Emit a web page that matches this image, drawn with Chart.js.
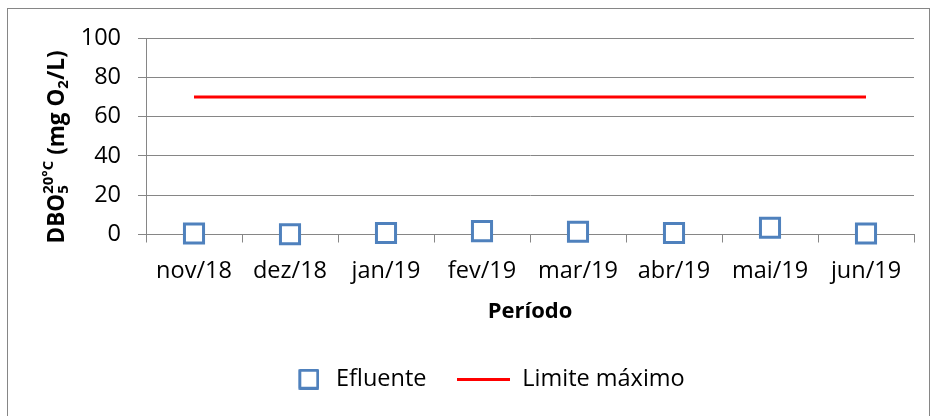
<!DOCTYPE html>
<html lang="pt">
  <head>
    <meta charset="UTF-8" />
    <title>DBO5 Efluente</title>
    <script src="https://cdn.jsdelivr.net/npm/chart.js@4.4.1/dist/chart.umd.min.js"></script>
    <style>
      * {
        margin: 0;
        padding: 0;
        box-sizing: border-box;
      }
      body {
        background: #fff;
        width: 931px;
        height: 416px;
        overflow: hidden;
      }
      #chart {
        display: block;
      }
    </style>
  </head>
  <body>
    <canvas id="chart" width="931" height="416"></canvas>
    <script>
      // data
      const categories = ["nov/18", "dez/18", "jan/19", "fev/19", "mar/19", "abr/19", "mai/19", "jun/19"];
      const efluente = [0.5, 0.1, 0.8, 1.7, 1.4, 0.8, 3.4, 0.5];
      const limiteMaximo = [70, 70, 70, 70, 70, 70, 70, 70];
      const seriesNames = ["Efluente", "Limite máximo"];
      const yMin = 0, yMax = 100, yStep = 20;

      const FONT = "'Open Sans', sans-serif";
      const gray = "#868686";
      const blue = "#4f81bd";
      const red = "#ff0000";

      // legend symbols (marker image is padded on the left so it sits closer to its text)
      const markerImg = document.createElement("canvas");
      markerImg.width = 43;
      markerImg.height = 21;
      let c = markerImg.getContext("2d");
      c.strokeStyle = blue;
      c.lineWidth = 3;
      c.lineJoin = "round";
      c.strokeRect(23.5, 1.5, 18, 18);

      const lineImg = document.createElement("canvas");
      lineImg.width = 53;
      lineImg.height = 3;
      c = lineImg.getContext("2d");
      c.fillStyle = red;
      c.fillRect(0, 0, 53, 3);

      // outer frame + white background
      const framePlugin = {
        id: "frame",
        beforeDraw(chart) {
          const ctx = chart.ctx;
          ctx.save();
          ctx.fillStyle = "#fff";
          ctx.fillRect(0, 0, chart.width, chart.height);
          ctx.strokeStyle = gray;
          ctx.lineWidth = 1;
          ctx.strokeRect(7.5, 8.5, 922, 420);
          ctx.restore();
        },
      };

      // y title with sub/superscripts
      const yTitlePlugin = {
        id: "yTitle",
        afterDraw(chart) {
          const ctx = chart.ctx;
          const big = "bold 22.5px " + FONT;
          const small = "bold 15px " + FONT;
          const parts = [
            { t: "DBO", f: big, dy: 0 },
            { t: "5", f: small, dy: 6, stack: true },
            { t: "20°C", f: small, dy: -9 },
            { t: " (mg O", f: big, dy: 0 },
            { t: "2", f: small, dy: 6 },
            { t: "/L)", f: big, dy: 0 },
          ];
          let total = 0;
          const widths = parts.map((p) => {
            ctx.font = p.f;
            return ctx.measureText(p.t).width;
          });
          parts.forEach((p, i) => {
            if (!p.stack) total += widths[i];
          });
          ctx.save();
          ctx.translate(58, 147);
          ctx.rotate(-Math.PI / 2);
          ctx.fillStyle = "#000";
          ctx.textBaseline = "middle";
          let x = -total / 2;
          parts.forEach((p, i) => {
            ctx.font = p.f;
            ctx.fillText(p.t, x, p.dy);
            if (!p.stack) x += widths[i];
          });
          ctx.restore();
        },
      };

      new Chart(document.getElementById("chart"), {
        type: "line",
        plugins: [framePlugin, yTitlePlugin],
        data: {
          labels: categories,
          datasets: [
            {
              label: seriesNames[0],
              data: efluente,
              showLine: false,
              clip: false,
              pointStyle: "rect",
              pointRadius: 13.5,
              pointHoverRadius: 13.5,
              pointBorderWidth: 3,
              pointBorderColor: blue,
              pointBackgroundColor: "#fff",
              borderColor: blue,
              backgroundColor: "#fff",
            },
            {
              label: seriesNames[1],
              data: limiteMaximo,
              borderColor: red,
              backgroundColor: red,
              borderWidth: 3,
              pointRadius: 0,
              pointHoverRadius: 0,
            },
          ],
        },
        options: {
          responsive: false,
          animation: false,
          layout: { padding: { left: 42, right: 17, top: 38, bottom: 15 } },
          scales: {
            x: {
              offset: true,
              grid: {
                offset: true,
                drawOnChartArea: false,
                color: gray,
                tickLength: 8,
                tickColor: gray,
              },
              border: { color: gray, width: 1 },
              ticks: {
                color: "#000",
                font: { family: FONT, size: 23.5 },
                padding: 15,
                maxRotation: 0,
              },
              title: {
                display: true,
                text: "Período",
                color: "#000",
                font: { family: FONT, size: 22, weight: "bold" },
                padding: { top: 4, bottom: 12 },
              },
              afterFit(scale) {
                scale.height = 102;
              },
            },
            y: {
              min: yMin,
              max: yMax,
              ticks: {
                stepSize: yStep,
                color: "#000",
                font: { family: FONT, size: 23.5 },
                padding: 17,
              },
              grid: {
                color: gray,
                lineWidth: 1,
                tickLength: 8,
                tickColor: gray,
              },
              border: { color: gray, width: 1 },
              afterFit(scale) {
                scale.width = 104;
              },
            },
          },
          plugins: {
            tooltip: { enabled: false },
            legend: {
              position: "bottom",
              labels: {
                usePointStyle: true,
                pointStyleWidth: 53,
                boxHeight: 23.5,
                padding: 31,
                color: "#000",
                font: { family: FONT, size: 23.5 },
                generateLabels(chart) {
                  const items = Chart.defaults.plugins.legend.labels.generateLabels(chart);
                  items[0].pointStyle = markerImg;
                  items[1].pointStyle = lineImg;
                  return items;
                },
              },
            },
          },
        },
      });
    </script>
  </body>
</html>
